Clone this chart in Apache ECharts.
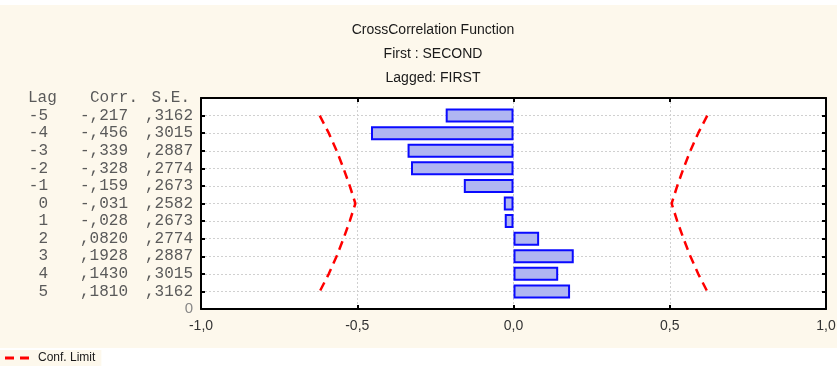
<!DOCTYPE html>
<html>
<head>
<meta charset="utf-8">
<script src="https://cdn.jsdelivr.net/npm/echarts@6/dist/echarts.min.js"></script>
<style>
  html, body { margin: 0; padding: 0; background: #ffffff; }
  #bg { position: absolute; left: 0; top: 5px; width: 837px; height: 343px; background: #fdf8ec; }
  #chart { position: absolute; left: 0; top: 0; width: 840px; height: 368px; }
</style>
</head>
<body>
<div id="bg"></div>
<div id="chart"></div>
<script>
// ---- data (top to bottom in the table: lag -5 ... 5) ----
const lags = [-5, -4, -3, -2, -1, 0, 1, 2, 3, 4, 5];
const corrValues = [-0.217, -0.456, -0.339, -0.328, -0.159, -0.031, -0.028, 0.082, 0.1928, 0.143, 0.181];
const corrLabels = ['-,217', '-,456', '-,339', '-,328', '-,159', '-,031', '-,028', ',0820', ',1928', ',1430', ',1810'];
const seLabels = [',3162', ',3015', ',2887', ',2774', ',2673', ',2582', ',2673', ',2774', ',2887', ',3015', ',3162'];
const confUpper = [0.620, 0.591, 0.566, 0.544, 0.524, 0.506, 0.524, 0.544, 0.566, 0.591, 0.620];
const confLower = [-0.620, -0.591, -0.566, -0.544, -0.524, -0.506, -0.524, -0.544, -0.566, -0.591, -0.620];
const xTicks = [-1.0, -0.5, 0.0, 0.5, 1.0];
const headerLabels = ['Lag', 'Corr.', 'S.E.'];
const titleLines = ['CrossCorrelation Function', 'First : SECOND', 'Lagged: FIRST'];

// category axis runs bottom -> top : 'bottom', lag 5, ..., lag -5, 'header'
const cats = ['bottom'].concat(lags.slice().reverse().map(String)).concat(['header']);
function rowIndex(lag) { return lags.indexOf(lag); }

const mono = '"Liberation Mono", "DejaVu Sans Mono", monospace';
const sans = '"Liberation Sans", Arial, sans-serif';
const txtCol = '#5a5a5a';

const chart = echarts.init(document.getElementById('chart'), null, { renderer: 'canvas' });

const barData = cats.map(c => {
  if (c === 'bottom' || c === 'header') return '-';
  return corrValues[rowIndex(Number(c))];
});

const option = {
  animation: false,
  backgroundColor: 'transparent',
  title: {
    text: titleLines.join('\n'),
    left: 428,
    top: 13,
    textAlign: 'center',
    textStyle: { fontFamily: sans, fontSize: 14, fontWeight: 'normal', color: '#1a1a1a', lineHeight: 24 }
  },
  legend: {
    left: 0,
    top: 350,
    padding: [2, 6, 2, 5],
    backgroundColor: '#fdf8ec',
    icon: 'path://M0,0 L9,0 L9,3 L0,3 Z M15,0 L24,0 L24,3 L15,3 Z',
    itemWidth: 24,
    itemHeight: 3,
    itemGap: 8,
    data: ['Conf. Limit'],
    itemStyle: { color: '#ff0000', borderWidth: 0 },
    textStyle: { fontFamily: sans, fontSize: 12, color: '#1a1a1a', padding: [0, 0, 0, 4] }
  },
  grid: {
    left: 201, right: 14, top: 98, bottom: 59,
    show: true, backgroundColor: '#ffffff', borderWidth: 0
  },
  xAxis: [
    {
      type: 'value', min: -1, max: 1, interval: 0.5, position: 'bottom',
      axisLine: { show: true, onZero: false, lineStyle: { color: '#000', width: 2 } },
      axisTick: { show: true, inside: true, length: 4, lineStyle: { color: '#000', width: 2 } },
      axisLabel: {
        margin: 10, fontFamily: sans, fontSize: 14, color: '#333',
        formatter: v => v.toFixed(1).replace('.', ',')
      },
      splitLine: { show: true, lineStyle: { color: '#d0d0d0', type: [2, 2], width: 1 } }
    },
    {
      type: 'value', min: -1, max: 1, interval: 0.5, position: 'top',
      axisLine: { show: true, onZero: false, lineStyle: { color: '#000', width: 2 } },
      axisTick: { show: true, inside: true, length: 4, lineStyle: { color: '#000', width: 2 } },
      axisLabel: { show: false },
      splitLine: { show: false }
    }
  ],
  yAxis: [
    {
      type: 'category', data: cats, boundaryGap: false, position: 'left',
      axisLine: { show: true, onZero: false, lineStyle: { color: '#000', width: 2 } },
      axisTick: { show: true, inside: true, length: 4, interval: 0, lineStyle: { color: '#000', width: 2 } },
      splitLine: { show: true, interval: 0, lineStyle: { color: '#d0d0d0', type: [2, 2], width: 1 } },
      axisLabel: {
        interval: 0, margin: 8, align: 'right',
        fontFamily: mono, fontSize: 16, color: txtCol,
        formatter: function (c) {
          if (c === 'bottom') return '{z|0}';
          if (c === 'header') return '{hlag|' + headerLabels[0] + '}{hcorr|' + headerLabels[1] + '}{hse|' + headerLabels[2] + '}';
          const i = rowIndex(Number(c));
          return '{lag|' + lags[i] + '}{corr|' + corrLabels[i] + '}{se|' + seLabels[i] + '}';
        },
        rich: {
          lag: { width: 20, align: 'right', fontFamily: mono, fontSize: 16, color: txtCol },
          corr: { width: 80, align: 'right', fontFamily: mono, fontSize: 16, color: txtCol },
          se: { width: 65, align: 'right', fontFamily: mono, fontSize: 16, color: txtCol },
          hlag: { width: 40, align: 'left', fontFamily: mono, fontSize: 16, color: txtCol },
          hcorr: { width: 70, align: 'right', fontFamily: mono, fontSize: 16, color: txtCol },
          hse: { width: 52, align: 'right', padding: [0, 3, 0, 0], fontFamily: mono, fontSize: 16, color: txtCol },
          z: { align: 'right', fontFamily: sans, fontSize: 15, color: '#888' }
        }
      }
    },
    {
      type: 'category', data: cats, boundaryGap: false, position: 'right',
      axisLine: { show: true, onZero: false, lineStyle: { color: '#000', width: 2 } },
      axisTick: { show: true, inside: true, length: 4, interval: 0, lineStyle: { color: '#000', width: 2 } },
      axisLabel: { show: false },
      splitLine: { show: false }
    }
  ],
  series: [
    {
      type: 'bar', name: 'Corr.',
      xAxisIndex: 0, yAxisIndex: 0,
      data: barData,
      barWidth: 14,
      itemStyle: { color: '#b0b6f2', borderColor: '#0a0aff', borderWidth: 2 },
      z: 3
    },
    {
      type: 'line', name: 'Conf. Limit',
      xAxisIndex: 0, yAxisIndex: 0,
      data: lags.map((l, i) => [confLower[i], String(l)]),
      symbol: 'none',
      lineStyle: { color: '#ff0000', width: 2.5, type: [9, 6] },
      itemStyle: { color: '#ff0000' },
      z: 4
    },
    {
      type: 'line', name: 'Conf. Limit',
      xAxisIndex: 0, yAxisIndex: 0,
      data: lags.map((l, i) => [confUpper[i], String(l)]),
      symbol: 'none',
      lineStyle: { color: '#ff0000', width: 2.5, type: [9, 6] },
      itemStyle: { color: '#ff0000' },
      z: 4
    }
  ]
};
chart.setOption(option);
</script>
</body>
</html>
